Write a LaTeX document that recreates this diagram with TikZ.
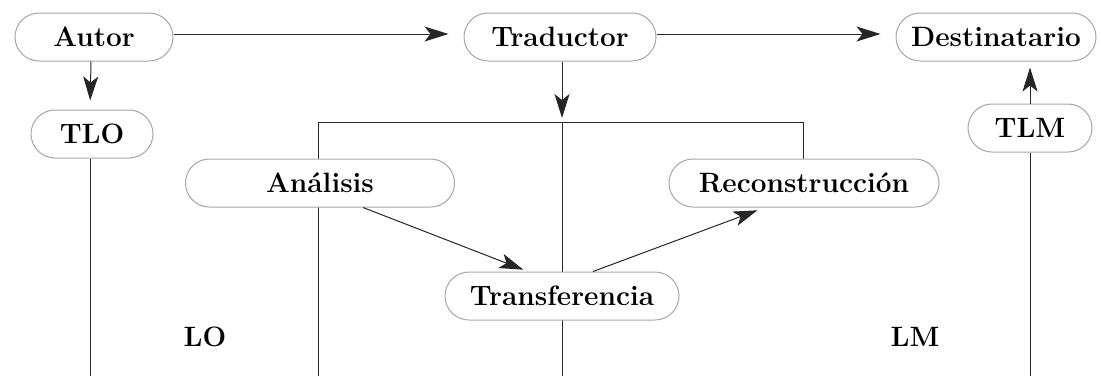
\documentclass[tikz,border=0pt]{standalone}
\usetikzlibrary{shapes.misc,arrows.meta,backgrounds}

\begin{document}
\begin{tikzpicture}[x=0.5pt, y=-0.5pt,
    box/.style={rounded rectangle, draw=gray!70, line width=0.5pt, fill=white, text=black, font=\fontsize{14}{16}\selectfont\bfseries, minimum height=24pt, inner xsep=2pt},
    lbl/.style={text=black, font=\fontsize{14}{16}\selectfont\bfseries},
    link/.style={draw=black!85, line width=0.5pt},
    arr/.style={link, -{Stealth[length=12pt, width=7.5pt, inset=3pt]}}]
    \useasboundingbox (0,0) rectangle (1101,376);

    % Top row
    \node[box, minimum width=83pt] (autor) at (94,37) {Autor};
    \node[box, minimum width=100pt] (traductor) at (560,37) {Traductor};
    \node[box, minimum width=104pt] (destinatario) at (996,37) {Destinatario};

    % Texts of the two languages
    \node[box, minimum width=65pt] (tlo) at (92,134) {TLO};
    \node[box, minimum width=66pt] (tlm) at (1030,128) {TLM};

    % Translation process
    \node[box, minimum width=138.5pt] (analisis) at (320,183) {Análisis};
    \node[box, minimum width=139pt] (reconstruccion) at (804,183) {Reconstrucción};
    \node[box, minimum width=121pt] (transferencia) at (562,296) {Transferencia};

    \node[lbl] (lo) at (205,337) {LO};
    \node[lbl] (lm) at (915,337) {LM};

    % Free ends of the lines
    \coordinate (bar) at (562,122);
    \coordinate (barL) at (318,122);
    \coordinate (barR) at (803,122);
    \coordinate (endTLO) at (90,376);
    \coordinate (endL) at (318,376);
    \coordinate (endM) at (562,376);
    \coordinate (endTLM) at (1030,376);

    % Arrows between nodes
    \draw[arr, shorten >=7.5pt] ([yshift=1.5pt]autor.east) -- ([yshift=1.5pt]traductor.west);
    \draw[arr, shorten >=7.5pt] ([yshift=1.5pt]traductor.east) -- ([yshift=1.5pt]destinatario.west);
    \draw[arr, shorten >=4.5pt] ([xshift=-1.5pt]autor.south) -- ([xshift=-1pt]tlo.north);
    \draw[arr, shorten >=2pt] ([xshift=1pt]traductor.south) -- (bar);
    \draw[arr, shorten >=3pt] (tlm.north) -- (destinatario.south -| tlm.north);
    \draw[arr, shorten >=2.5pt] ([xshift=21.5pt]analisis.south) -- ([xshift=-17pt]transferencia.north);
    \draw[arr, shorten >=4pt] ([xshift=15.5pt]transferencia.north) -- ([xshift=-19.5pt]reconstruccion.south);

    % Lines behind the boxes
    \begin{pgfonlayer}{background}
        \draw[link] ([xshift=-1pt]tlo.south) -- (endTLO);
        \draw[link] (tlm.south) -- (endTLM);
        \draw[link] (endL) -- (barL) -- (barR) -- (barR |- reconstruccion.north);
        \draw[link] (bar) -- (endM);
    \end{pgfonlayer}
\end{tikzpicture}
\end{document}
